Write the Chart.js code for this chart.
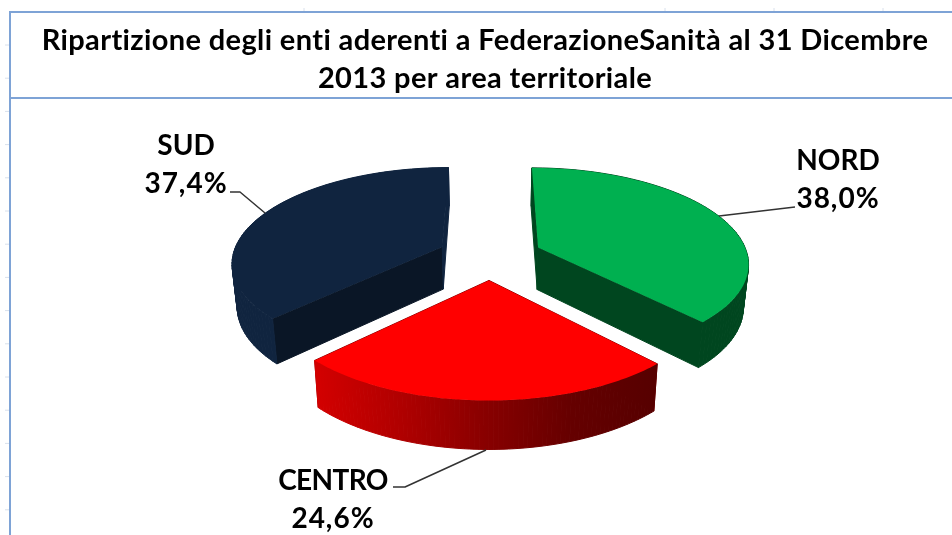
<!DOCTYPE html>
<html>
<head>
<meta charset="utf-8">
<script src="https://cdn.jsdelivr.net/npm/chart.js@4"></script>
<style>
  html, body { margin: 0; background: #fff; }
  canvas { display: block; }
</style>
</head>
<body>
<canvas id="myChart" width="952" height="535"></canvas>
<script>
const titleLines = [
  "Ripartizione degli enti aderenti a FederazioneSanità al 31 Dicembre",
  "2013 per area territoriale",
];
const categories = ["NORD", "CENTRO", "SUD"];
const values = [38.0, 24.6, 37.4];
const valueLabels = ["38,0%", "24,6%", "37,4%"];

const topColors = ["#00b050", "#ff0000", "#10243f"];
const startCutColors = ["#00461f", "#8a0000", "#0a1626"];
const endCutColors = ["#00461f", "#8a0000", "#10243f"];
const wallColors = [
  ["#00461f", "#00461f"],
  ["#d40000", "#b00000", "#880000", "#650000", "#560000"],
  ["#10243f", "#10243f"],
];

// where each label sits and how its leader line runs
const labelPos = [
  { x: 838, y1: 170, y2: 208, track: 0, line: [[795, 207], [719, 216]] },
  { x: 333, y1: 490, y2: 528, track: -0.6, line: [[393, 487], [405, 487], [486, 450]] },
  { x: 186, y1: 155, y2: 193, track: 0, line: [[230, 192], [240, 192], [265, 213]] },
];

// fake 3d view of the pie
const squash = 0.441;
const xScale = 0.985;
const perspective = 0.15;
const explode = 0.25;

function project(arc, u, v) {
  const w = 1 - perspective * v;
  return [
    arc.x + (arc.outerRadius * xScale * u) / w,
    arc.y + (arc.outerRadius * squash * v) / w,
  ];
}

function lower(arc, p) {
  return [arc.x + (p[0] - arc.x) * 0.98, p[1] + 42 + 0.045 * (p[1] - 246)];
}

// stroke=true closes the hairline gaps between neighbouring faces
function fillPoly(ctx, pts, color, stroke) {
  ctx.beginPath();
  pts.forEach((p, i) => (i ? ctx.lineTo(p[0], p[1]) : ctx.moveTo(p[0], p[1])));
  ctx.closePath();
  ctx.fillStyle = color;
  ctx.fill();
  if (stroke) {
    ctx.strokeStyle = color;
    ctx.lineWidth = 1;
    ctx.lineJoin = "round";
    ctx.stroke();
  }
}

function drawSlice(ctx, arc, i) {
  const mid = (arc.startAngle + arc.endAngle) / 2;
  const ox = explode * Math.cos(mid);
  const oy = explode * Math.sin(mid);
  const apex = project(arc, ox, oy);
  const rim = [];
  const steps = 80;
  for (let s = 0; s <= steps; s++) {
    const a = arc.startAngle + ((arc.endAngle - arc.startAngle) * s) / steps;
    rim.push(project(arc, ox + Math.cos(a), oy + Math.sin(a)));
  }
  const first = rim[0];
  const last = rim[steps];

  fillPoly(ctx, [apex, first, lower(arc, first), lower(arc, apex)], startCutColors[i], true);
  fillPoly(ctx, [apex, last, lower(arc, last), lower(arc, apex)], endCutColors[i], true);

  const xs = rim.map((p) => p[0]);
  const grad = ctx.createLinearGradient(Math.min(...xs), 0, Math.max(...xs), 0);
  wallColors[i].forEach((c, n) => grad.addColorStop(n / (wallColors[i].length - 1), c));
  for (let s = 0; s < steps; s++) {
    const quad = [rim[s], rim[s + 1], lower(arc, rim[s + 1]), lower(arc, rim[s])];
    fillPoly(ctx, quad, grad, true);
  }

  fillPoly(ctx, [apex].concat(rim), topColors[i], false);
}

const pie3d = {
  id: "pie3d",
  beforeDatasetDraw(chart) {
    const ctx = chart.ctx;
    const arcs = chart.getDatasetMeta(0).data;
    [2, 0, 1].forEach((i) => drawSlice(ctx, arcs[i], i));
    return false;
  },
  afterDraw(chart) {
    const ctx = chart.ctx;
    ctx.save();
    ctx.fillStyle = "#000";
    ctx.textAlign = "center";
    ctx.font = "bold 29px Lato";
    ctx.letterSpacing = "0.37px";
    ctx.fillText(titleLines[0], 485, 50);
    ctx.fillText(titleLines[1], 485, 88);
    ctx.font = "bold 28px Lato";
    categories.forEach((name, i) => {
      const pos = labelPos[i];
      ctx.fillStyle = "#000";
      ctx.letterSpacing = pos.track + "px";
      ctx.fillText(name, pos.x, pos.y1);
      ctx.letterSpacing = "1px";
      ctx.fillText(valueLabels[i], pos.x, pos.y2);
      ctx.beginPath();
      pos.line.forEach((p, n) => (n ? ctx.lineTo(p[0], p[1]) : ctx.moveTo(p[0], p[1])));
      ctx.strokeStyle = "#333";
      ctx.lineWidth = 1.5;
      ctx.stroke();
    });
    ctx.restore();
  },
  beforeDraw(chart) {
    // spreadsheet cell borders and faint ruler marks behind the chart
    const ctx = chart.ctx;
    ctx.save();
    ctx.fillStyle = "#fff";
    ctx.fillRect(0, 0, 952, 535);
    ctx.strokeStyle = "#d8e0ec";
    ctx.lineWidth = 1;
    ctx.beginPath();
    for (let y = 45; y < 535; y += 33.2) {
      ctx.moveTo(5, y);
      ctx.lineTo(10, y);
    }
    [304, 665, 774, 883].forEach((x) => {
      ctx.moveTo(x, 8);
      ctx.lineTo(x, 12);
    });
    ctx.stroke();
    ctx.strokeStyle = "#7ea3d6";
    ctx.lineWidth = 2;
    ctx.beginPath();
    ctx.moveTo(952, 12);
    ctx.lineTo(10, 12);
    ctx.lineTo(10, 535);
    ctx.moveTo(10, 98);
    ctx.lineTo(952, 98);
    ctx.stroke();
    ctx.restore();
  },
};

new Chart("myChart", {
  type: "pie",
  data: {
    labels: categories,
    datasets: [
      {
        data: values,
        backgroundColor: topColors,
        borderWidth: 0,
      },
    ],
  },
  plugins: [pie3d],
  options: {
    responsive: false,
    animation: false,
    layout: { padding: { left: 277, right: 249, top: 43, bottom: 66 } },
    plugins: {
      legend: { display: false },
      tooltip: { enabled: false },
    },
  },
});
</script>
</body>
</html>
